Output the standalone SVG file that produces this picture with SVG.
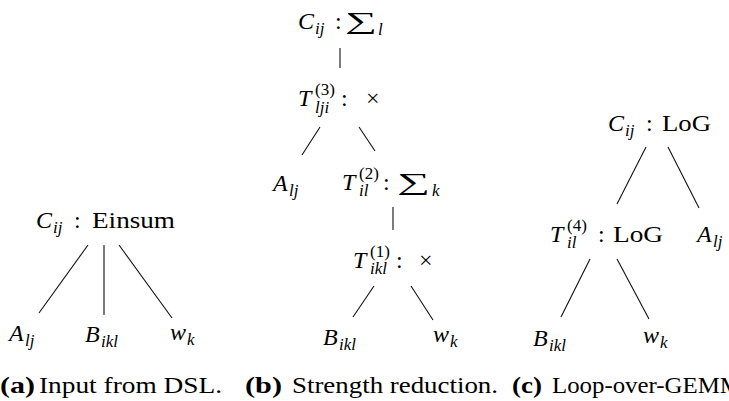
<svg xmlns="http://www.w3.org/2000/svg" width="729" height="401" viewBox="0 0 729 401">
<rect width="729" height="401" fill="#fff"/>
<g id="edges" stroke="#111" stroke-width="1.1">
<line x1="88" y1="245" x2="39" y2="313"/>
<line x1="104" y1="245" x2="104" y2="315"/>
<line x1="119" y1="245" x2="172" y2="318"/>
<line x1="340" y1="48" x2="340" y2="68"/>
<line x1="320" y1="127" x2="302" y2="155"/>
<line x1="359" y1="127" x2="375" y2="151"/>
<line x1="393" y1="207" x2="393" y2="230"/>
<line x1="374" y1="286" x2="353" y2="317"/>
<line x1="411" y1="286" x2="433" y2="320"/>
<line x1="646" y1="147" x2="617" y2="204"/>
<line x1="668" y1="147" x2="699" y2="208"/>
<line x1="590" y1="259" x2="561" y2="317"/>
<line x1="617" y1="259" x2="649" y2="319"/>
</g>
<g id="a-root">
<text x="36" y="228" font-family="Liberation Serif" font-size="24" font-style="italic">C</text><text x="53" y="233" font-family="Liberation Serif" font-size="17" font-style="italic">ij</text>
<text x="74" y="228" font-family="Liberation Serif" font-size="24">:</text><text x="92" y="228" font-family="Liberation Serif" font-size="24" textLength="83" lengthAdjust="spacingAndGlyphs">Einsum</text>
</g>
<g id="a-A"><text x="9" y="341" font-family="Liberation Serif" font-size="24" font-style="italic">A</text><text x="25" y="346" font-family="Liberation Serif" font-size="17" font-style="italic">lj</text></g>
<g id="a-B"><text x="85" y="342" font-family="Liberation Serif" font-size="24" font-style="italic">B</text><text x="101" y="347" font-family="Liberation Serif" font-size="17" font-style="italic">ikl</text></g>
<g id="a-w"><text x="170" y="340" font-family="Liberation Serif" font-size="24" font-style="italic">w</text><text x="187" y="345" font-family="Liberation Serif" font-size="17" font-style="italic">k</text></g>
<g id="b-root">
<text x="298" y="29" font-family="Liberation Serif" font-size="24" font-style="italic">C</text><text x="315" y="34" font-family="Liberation Serif" font-size="17" font-style="italic">ij</text>
<text x="335" y="29" font-family="Liberation Serif" font-size="24">:</text><text x="345" y="29" font-family="Liberation Serif" font-size="24" textLength="32" lengthAdjust="spacingAndGlyphs">∑</text><text x="378" y="35" font-family="Liberation Serif" font-size="17" font-style="italic">l</text>
</g>
<g id="b-T3">
<text x="298" y="106" font-family="Liberation Serif" font-size="24" font-style="italic">T</text><text x="315" y="95" font-family="Liberation Serif" font-size="17">(3)</text><text x="315" y="113" font-family="Liberation Serif" font-size="17" font-style="italic">lji</text>
<text x="341" y="106" font-family="Liberation Serif" font-size="24">:</text><text x="366" y="106" font-family="Liberation Serif" font-size="24">×</text>
</g>
<g id="b-A"><text x="273" y="191" font-family="Liberation Serif" font-size="24" font-style="italic">A</text><text x="289" y="196" font-family="Liberation Serif" font-size="17" font-style="italic">lj</text></g>
<g id="b-T2">
<text x="342" y="190" font-family="Liberation Serif" font-size="24" font-style="italic">T</text><text x="359" y="179" font-family="Liberation Serif" font-size="17">(2)</text><text x="359" y="196" font-family="Liberation Serif" font-size="17" font-style="italic">il</text>
<text x="383" y="190" font-family="Liberation Serif" font-size="24">:</text><text x="397" y="190" font-family="Liberation Serif" font-size="24" textLength="33" lengthAdjust="spacingAndGlyphs">∑</text><text x="432" y="196" font-family="Liberation Serif" font-size="17" font-style="italic">k</text>
</g>
<g id="b-T1">
<text x="353" y="268" font-family="Liberation Serif" font-size="24" font-style="italic">T</text><text x="370" y="257" font-family="Liberation Serif" font-size="17">(1)</text><text x="370" y="274" font-family="Liberation Serif" font-size="17" font-style="italic">ikl</text>
<text x="396" y="268" font-family="Liberation Serif" font-size="24">:</text><text x="419" y="268" font-family="Liberation Serif" font-size="24">×</text>
</g>
<g id="b-B"><text x="323" y="345" font-family="Liberation Serif" font-size="24" font-style="italic">B</text><text x="339" y="350" font-family="Liberation Serif" font-size="17" font-style="italic">ikl</text></g>
<g id="b-w"><text x="433" y="342" font-family="Liberation Serif" font-size="24" font-style="italic">w</text><text x="450" y="347" font-family="Liberation Serif" font-size="17" font-style="italic">k</text></g>
<g id="c-root">
<text x="608" y="131" font-family="Liberation Serif" font-size="24" font-style="italic">C</text><text x="625" y="136" font-family="Liberation Serif" font-size="17" font-style="italic">ij</text>
<text x="646" y="131" font-family="Liberation Serif" font-size="24">:</text><text x="662" y="131" font-family="Liberation Serif" font-size="24" textLength="49" lengthAdjust="spacingAndGlyphs">LoG</text>
</g>
<g id="c-T4">
<text x="550" y="242" font-family="Liberation Serif" font-size="24" font-style="italic">T</text><text x="567" y="231" font-family="Liberation Serif" font-size="17">(4)</text><text x="567" y="248" font-family="Liberation Serif" font-size="17" font-style="italic">il</text>
<text x="598" y="242" font-family="Liberation Serif" font-size="24">:</text><text x="613" y="242" font-family="Liberation Serif" font-size="24" textLength="50" lengthAdjust="spacingAndGlyphs">LoG</text>
</g>
<g id="c-A"><text x="697" y="242" font-family="Liberation Serif" font-size="24" font-style="italic">A</text><text x="713" y="247" font-family="Liberation Serif" font-size="17" font-style="italic">lj</text></g>
<g id="c-B"><text x="533" y="346" font-family="Liberation Serif" font-size="24" font-style="italic">B</text><text x="549" y="351" font-family="Liberation Serif" font-size="17" font-style="italic">ikl</text></g>
<g id="c-w"><text x="643" y="343" font-family="Liberation Serif" font-size="24" font-style="italic">w</text><text x="660" y="348" font-family="Liberation Serif" font-size="17" font-style="italic">k</text></g>
<g id="captions">
<text x="0" y="393" font-family="Liberation Serif" font-size="24" font-weight="bold" textLength="35" lengthAdjust="spacingAndGlyphs">(a)</text>
<text x="39" y="393" font-family="Liberation Serif" font-size="24" textLength="183" lengthAdjust="spacingAndGlyphs">Input from DSL.</text>
<text x="245" y="393" font-family="Liberation Serif" font-size="24" font-weight="bold" textLength="37" lengthAdjust="spacingAndGlyphs">(b)</text>
<text x="292" y="393" font-family="Liberation Serif" font-size="24" textLength="206" lengthAdjust="spacingAndGlyphs">Strength reduction.</text>
<text x="512" y="393" font-family="Liberation Serif" font-size="24" font-weight="bold" textLength="30" lengthAdjust="spacingAndGlyphs">(c)</text>
<text x="552" y="393" font-family="Liberation Serif" font-size="24" textLength="196" lengthAdjust="spacingAndGlyphs">Loop-over-GEMM.</text>
</g>
</svg>
